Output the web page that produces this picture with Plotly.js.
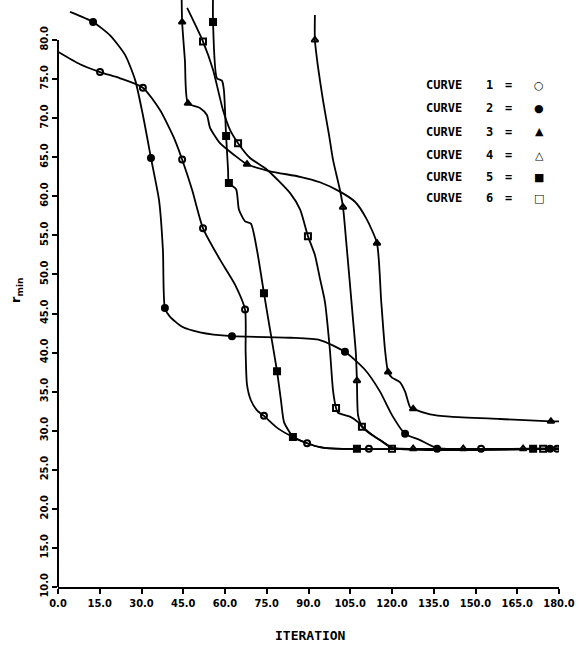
<!DOCTYPE html>
<html>
<head>
<meta charset="utf-8">
<script src="https://cdn.plot.ly/plotly-3.0.1.min.js"></script>
<style>html,body{margin:0;padding:0;background:#fff;}#chart{width:579px;height:645px;}</style>
</head>
<body>
<div id="chart"></div>
<script>
// ---- data ----
const c1x = [0, 7.9, 15.1, 22.3, 30.5, 36.7, 42.0, 44.6, 48.2, 52.1, 58.2, 63.6, 67.2, 67.4, 67.9, 69.3, 71.5, 74.0, 79.0, 84.4, 89.5, 94.1, 99.5, 180];
const c1y = [78.5, 76.9, 75.9, 75.1, 73.9, 71.0, 67.2, 64.7, 60.8, 55.9, 51.9, 48.7, 45.5, 40.3, 35.9, 33.9, 32.6, 31.9, 30.3, 29.2, 28.4, 27.9, 27.7, 27.7];
const c1mx = [15.1, 30.5, 44.6, 52.1, 67.2, 74.0, 89.5, 111.7, 152.0, 179.3];
const c1my = [75.9, 73.9, 64.7, 55.9, 45.5, 31.9, 28.4, 27.7, 27.7, 27.7];

const c2x = [4.3, 12.6, 18.7, 24.1, 27.7, 30.5, 33.4, 36.3, 37.7, 38.4, 40.2, 44.6, 51.0, 62.5, 83.4, 94.1, 103.1, 110.3, 115.7, 120.0, 124.7, 130.1, 136.2, 180];
const c2y = [83.6, 82.3, 80.6, 78.1, 74.9, 70.4, 64.9, 59.5, 53.1, 45.7, 44.6, 43.3, 42.6, 42.1, 41.9, 41.6, 40.1, 37.8, 35.0, 32.0, 29.6, 28.8, 27.8, 27.7];
const c2mx = [12.6, 33.4, 38.4, 62.5, 103.1, 124.7, 136.2, 176.8];
const c2my = [82.3, 64.9, 45.7, 42.1, 40.1, 29.6, 27.7, 27.7];

const c3x = [44.4, 44.6, 45.6, 46.7, 51.0, 53.5, 54.6, 58.2, 63.6, 67.9, 76.2, 87.0, 94.1, 101.3, 106.7, 110.7, 114.6, 116.1, 117.5, 118.6, 120.0, 122.9, 124.7, 126.5, 127.6, 133.7, 140.9, 158.8, 177.1, 180];
const c3y = [86.0, 82.3, 77.4, 71.9, 71.3, 70.4, 68.8, 66.8, 65.2, 64.1, 63.2, 62.5, 61.8, 60.6, 59.3, 57.2, 54.0, 46.7, 40.3, 37.5, 36.8, 36.2, 35.0, 33.0, 32.8, 32.1, 31.8, 31.5, 31.2, 31.2];
const c3mx = [44.6, 46.7, 67.9, 114.6, 118.6, 127.6, 177.1];
const c3my = [82.3, 71.9, 64.1, 54.0, 37.5, 32.8, 31.2];

const c4x = [92.3, 92.3, 93.4, 95.2, 97.4, 98.8, 101.3, 102.4, 103.5, 106.0, 107.0, 107.4, 107.8, 109.2, 112.8, 117.5, 120.0, 122.9, 180];
const c4y = [83.2, 80.0, 76.6, 72.3, 67.8, 64.7, 60.8, 58.6, 54.4, 44.2, 40.0, 36.4, 32.0, 30.6, 29.5, 28.4, 27.8, 27.7, 27.7];
const c4mx = [92.3, 102.4, 107.4, 127.6, 145.6, 167.1];
const c4my = [80.0, 58.6, 36.4, 27.7, 27.7, 27.7];

const c5x = [55.7, 55.7, 57.1, 58.9, 59.6, 60.4, 61.1, 61.4, 64.0, 65.0, 67.2, 69.3, 71.5, 74.0, 76.2, 78.7, 80.1, 81.2, 83.4, 84.4, 89.5, 94.1, 99.5, 180];
const c5y = [86.0, 82.3, 75.1, 74.8, 73.6, 67.7, 63.4, 61.7, 60.9, 58.3, 56.8, 56.5, 53.1, 47.6, 42.9, 37.6, 33.9, 31.1, 29.7, 29.2, 28.4, 27.9, 27.7, 27.7];
const c5mx = [55.7, 60.4, 61.4, 74.0, 78.7, 84.4, 107.4, 170.7];
const c5my = [82.3, 67.7, 61.7, 47.6, 37.6, 29.2, 27.7, 27.7];

const c6x = [46.4, 52.1, 55.7, 59.3, 61.8, 64.7, 69.0, 75.1, 83.4, 87.0, 89.8, 92.3, 94.1, 95.9, 97.7, 98.8, 99.9, 100.6, 104.9, 107.8, 109.2, 112.1, 115.7, 120.0, 180];
const c6y = [84.1, 79.8, 76.2, 71.0, 68.5, 66.8, 64.9, 63.4, 60.4, 58.3, 54.9, 52.5, 49.5, 46.5, 40.3, 35.2, 32.9, 32.3, 31.8, 31.1, 30.5, 29.6, 28.8, 27.8, 27.7];
const c6mx = [52.1, 64.7, 89.8, 99.9, 109.2, 120.0, 174.3];
const c6my = [79.8, 66.8, 54.9, 32.9, 30.5, 27.7, 27.7];

const curveNames = ["CURVE 1", "CURVE 2", "CURVE 3", "CURVE 4", "CURVE 5", "CURVE 6"];
const curveNums = ["1", "2", "3", "4", "5", "6"];
const legendGlyphs = ["○", "●", "▲", "△", "■", "□"];
const xTicks = [0, 15, 30, 45, 60, 75, 90, 105, 120, 135, 150, 165, 180];
const yTicks = [10, 15, 20, 25, 30, 35, 40, 45, 50, 55, 60, 65, 70, 75, 80];
const xTitle = "ITERATION";
const yTitle = "r<sub>min</sub>";

// ---- styles ----
const symbols = ["circle-open", "circle", "triangle-up", "triangle-up-open", "square", "square-open"];
const paths = [[c1x, c1y], [c2x, c2y], [c3x, c3y], [c4x, c4y], [c5x, c5y], [c6x, c6y]];
const marks = [[c1mx, c1my], [c2mx, c2my], [c3mx, c3my], [c4mx, c4my], [c5mx, c5my], [c6mx, c6my]];

const traces = [];
paths.forEach((p, i) => {
  traces.push({x: p[0], y: p[1], type: 'scatter', mode: 'lines', name: curveNames[i],
    line: {color: '#000', width: 1.8, shape: 'spline', smoothing: 0.6}, hoverinfo: 'skip', showlegend: false});
});
marks.forEach((m, i) => {
  traces.push({x: m[0], y: m[1], type: 'scatter', mode: 'markers', name: curveNames[i],
    marker: {symbol: symbols[i], size: 6, color: '#000', line: {color: '#000', width: 2}}, showlegend: false});
});

const L = 58, T = 0, PW = 501, PH = 587;
const px = v => (v - L) / PW;
const py = v => (T + PH - v) / PH;
const tickFont = {family: 'DejaVu Sans Condensed, DejaVu Sans', size: 11, color: '#000', weight: 'bold'};
const legFont = {family: 'DejaVu Sans Mono', size: 12, color: '#000', weight: 'bold'};

const rowsY = [85, 108, 132, 155, 177, 198];
const annotations = [];
curveNames.forEach((n, i) => {
  const y = py(rowsY[i]);
  annotations.push({xref: 'paper', yref: 'paper', x: px(424), y: y, xanchor: 'left', yanchor: 'middle', text: 'CURVE', showarrow: false, font: legFont});
  annotations.push({xref: 'paper', yref: 'paper', x: px(489), y: y, xanchor: 'center', yanchor: 'middle', text: curveNums[i], showarrow: false, font: legFont});
  annotations.push({xref: 'paper', yref: 'paper', x: px(508), y: y, xanchor: 'center', yanchor: 'middle', text: '=', showarrow: false, font: legFont});
  annotations.push({xref: 'paper', yref: 'paper', x: px(539), y: y, xanchor: 'center', yanchor: 'middle', text: legendGlyphs[i], showarrow: false, font: {family: 'DejaVu Sans', size: 11, color: '#000'}});
});
annotations.push({xref: 'paper', yref: 'paper', x: px(310), y: py(635), xanchor: 'center', yanchor: 'middle', text: xTitle, showarrow: false,
  font: {family: 'DejaVu Sans Mono', size: 13, color: '#000', weight: 'bold'}});
annotations.push({xref: 'paper', yref: 'paper', x: px(16), y: py(290), xanchor: 'center', yanchor: 'middle', text: yTitle, textangle: -90, showarrow: false,
  font: {family: 'DejaVu Sans', size: 13, color: '#000', weight: 'bold'}});

const layout = {
  width: 579, height: 645,
  margin: {l: L, r: 579 - L - PW, t: T, b: 645 - T - PH},
  paper_bgcolor: '#fff', plot_bgcolor: '#fff',
  showlegend: false,
  xaxis: {range: [0, 180], tickvals: xTicks, tickformat: '.1f', showgrid: false, zeroline: false,
    showline: true, linecolor: '#000', linewidth: 2, ticks: 'outside', ticklen: 5, tickwidth: 2, tickcolor: '#000',
    tickfont: tickFont, automargin: false},
  yaxis: {range: [10, 85.12], tickvals: yTicks, tickformat: '.1f', tickangle: -90, showgrid: false, zeroline: false,
    showline: false, ticks: 'outside', ticklen: 5, tickwidth: 2, tickcolor: '#000',
    tickfont: tickFont, automargin: false},
  shapes: [{type: 'line', xref: 'paper', yref: 'y', x0: 0, x1: 0, y0: yTicks[0], y1: yTicks[yTicks.length - 1],
    line: {color: '#000', width: 2}}],
  annotations: annotations
};

Plotly.newPlot('chart', traces, layout, {staticPlot: true, displayModeBar: false});
</script>
</body>
</html>
